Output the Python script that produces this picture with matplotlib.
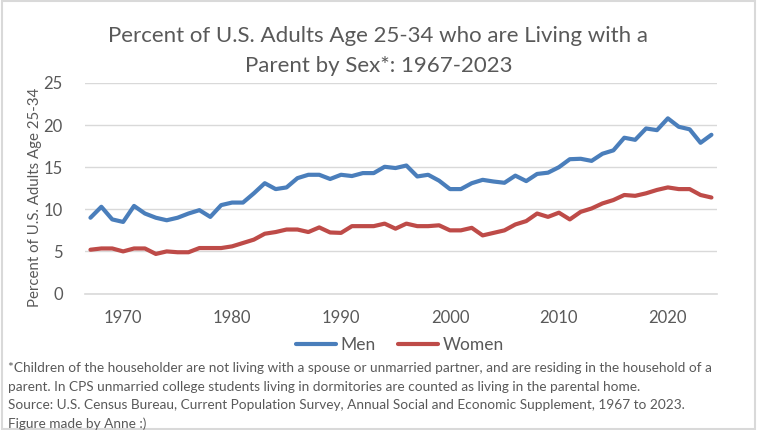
import matplotlib
matplotlib.use('Agg')
import matplotlib.pyplot as plt
from matplotlib.patches import Rectangle

plt.rcParams['font.family'] = ['Lato', 'DejaVu Sans']

# Data (percent)
years = list(range(1967, 2025))
men = [9.0, 10.3, 8.8, 8.5, 10.4, 9.5, 9.0, 8.7, 9.0, 9.5,
       9.9, 9.1, 10.5, 10.8, 10.8, 11.9, 13.1, 12.4, 12.6, 13.7,
       14.1, 14.1, 13.6, 14.1, 13.95, 14.3, 14.3, 15.05, 14.9, 15.2,
       13.9, 14.1, 13.4, 12.4, 12.4, 13.1, 13.5, 13.3, 13.15, 14.0,
       13.35, 14.2, 14.35, 15.0, 15.95, 16.0, 15.75, 16.6, 17.0, 18.5,
       18.25, 19.6, 19.4, 20.8, 19.8, 19.5, 17.9, 18.85]
women = [5.2, 5.35, 5.35, 5.0, 5.35, 5.35, 4.7, 5.0, 4.9, 4.9,
         5.4, 5.4, 5.4, 5.6, 6.0, 6.4, 7.1, 7.3, 7.6, 7.6,
         7.3, 7.85, 7.25, 7.2, 8.0, 8.0, 8.0, 8.3, 7.7, 8.3,
         8.0, 8.0, 8.1, 7.5, 7.5, 7.8, 6.9, 7.2, 7.5, 8.2,
         8.6, 9.5, 9.1, 9.6, 8.8, 9.7, 10.1, 10.7, 11.1, 11.7,
         11.6, 11.9, 12.3, 12.6, 12.4, 12.4, 11.7, 11.4]
x_ticks = [1970, 1980, 1990, 2000, 2010, 2020]
y_ticks = [0, 5, 10, 15, 20, 25]

grey_txt = '#595959'
grid_col = '#d9d9d9'

fig = plt.figure(figsize=(7.57, 4.3), dpi=100)
ax = fig.add_axes([0.1123, 0.3174, 0.8347, 0.4896])

ax.plot(years, men, color='#4a7ebb', lw=3.0, solid_capstyle='round', label='Men')
ax.plot(years, women, color='#be4b48', lw=3.0, solid_capstyle='round', label='Women')

ax.set_xlim(1966.5, 2024.5)
ax.set_ylim(0, 25)
ax.set_xticks(x_ticks)
ax.set_yticks(y_ticks)
ax.grid(axis='y', color=grid_col, lw=1)
ax.set_axisbelow(True)
for s in ['top', 'right', 'left']:
    ax.spines[s].set_visible(False)
ax.spines['bottom'].set_color(grid_col)
ax.spines['bottom'].set_linewidth(1.2)
ax.tick_params(axis='both', length=0, labelsize=12, colors=grey_txt)
ax.tick_params(axis='x', pad=12)
ax.tick_params(axis='y', pad=16)

fig.text(0.5, 0.882, 'Percent of U.S. Adults Age 25-34 who are Living with a\nParent by Sex*: 1967-2023',
         ha='center', va='center', fontsize=16, color=grey_txt, linespacing=1.65)
fig.text(0.046, 0.54, 'Percent of U.S. Adults Age 25-34', rotation=90, ha='center', va='center',
         fontsize=10.8, color=grey_txt)

leg = ax.legend(loc='center', bbox_to_anchor=(0.528, 0.1977), bbox_transform=fig.transFigure,
                ncol=2, frameon=False, fontsize=12.5, handlelength=2.3, handletextpad=0.25,
                columnspacing=1.3)
for t in leg.get_texts():
    t.set_color(grey_txt)

foot = ('*Children of the householder are not living with a spouse or unmarried partner, and are residing in the household of a\n'
        'parent. In CPS unmarried college students living in dormitories are counted as living in the parental home.\n'
        'Source: U.S. Census Bureau, Current Population Survey, Annual Social and Economic Supplement, 1967 to 2023.\n'
        'Figure made by Anne :)')
fig.text(0.011, 0.157, foot, ha='left', va='top', fontsize=9.8, color=grey_txt, linespacing=1.62)

fig.patches.append(Rectangle((0.002, 0.003), 0.996, 0.994, transform=fig.transFigure,
                             fill=False, edgecolor='#d9d9d9', lw=1.5))

fig.savefig('out.png', dpi=100, facecolor='white')
